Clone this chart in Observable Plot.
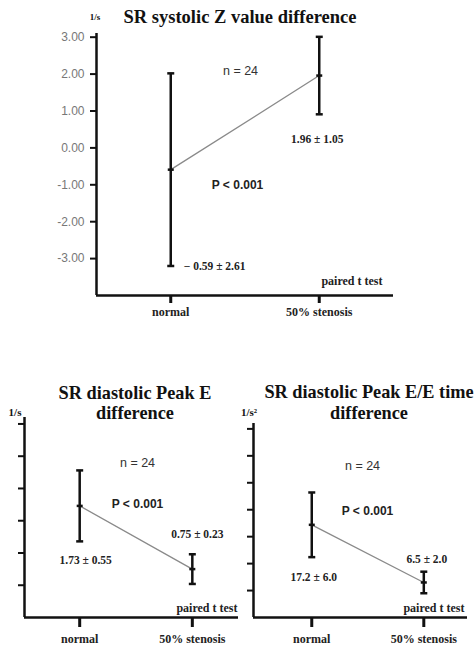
<!DOCTYPE html>
<html><head><meta charset="utf-8">
<script src="https://cdn.jsdelivr.net/npm/d3@7"></script>
<script src="https://cdn.jsdelivr.net/npm/@observablehq/plot@0.6"></script>
<style>
body{margin:0;background:#fff;}
#wrap{position:relative;width:474px;height:649px;overflow:hidden;font-family:"Liberation Serif",serif;}
.t{position:absolute;font-weight:bold;white-space:nowrap;transform:translate(-50%,-50%);color:#111;}
.panel{position:absolute;}
</style></head><body><div id="wrap"></div>
<script>
const categories = ["normal", "50% stenosis"];
const zMean = [-0.59, 1.96];
const zSD = [2.61, 1.05];
const zLabels = ["\u2212 0.59 \u00b1 2.61", "1.96 \u00b1 1.05"];
const zTicks = [-3, -2, -1, 0, 1, 2, 3];
const eMean = [1.73, 0.75];
const eSD = [0.55, 0.23];
const eLabels = ["1.73 \u00b1 0.55", "0.75 \u00b1 0.23"];
const eTicks = [0.5, 1, 1.5, 2, 2.5, 3];
const eeMean = [17.2, 6.5];
const eeSD = [6.0, 2.0];
const eeLabels = ["17.2 \u00b1 6.0", "6.5 \u00b1 2.0"];
const eeTicks = [5, 10, 15, 20, 25, 30, 35];
const nText = "n = 24";
const pText = "P < 0.001";
const testText = "paired t test";
const titles = ["SR systolic Z value difference", "SR diastolic Peak E", "difference", "SR diastolic Peak E/E time", "difference"];
const units = ["1/s", "1/s", "1/s\u00b2"];

const wrap = document.getElementById("wrap");
const hline = {draw(ctx, size) { const r = Math.sqrt(size / Math.PI); ctx.moveTo(-r, 0); ctx.lineTo(r, 0); }};
const sans = "Liberation Sans, Arial, sans-serif";
const serif = "Liberation Serif, Times New Roman, serif";

function panel(cfg) {
  const data = categories.map((c, i) => ({i, c, mean: cfg.mean[i], lo: cfg.mean[i] - cfg.sd[i], hi: cfg.mean[i] + cfg.sd[i], label: cfg.labels[i]}));
  const marks = [
    Plot.ruleY([cfg.yDomain[0]], {strokeWidth: 2.5, stroke: "#111"}),
    Plot.ruleX([cfg.xDomain[0]], {strokeWidth: 2.5, stroke: "#111"}),
    Plot.axisY({ticks: cfg.ticks, tickSize: 6, strokeWidth: 2, stroke: "#111", tickFormat: () => "", label: null}),
    Plot.axisX({ticks: [0, 1], tickFormat: i => categories[i], tickSize: cfg.xTickSize, tickPadding: cfg.xTickPadding, strokeWidth: 3, stroke: "#111", fill: "#222", fontFamily: serif, fontWeight: "bold", fontSize: 12, label: null}),
    Plot.line(data, {x: "i", y: "mean", stroke: "#8a8a8a", strokeWidth: 1.3}),
    Plot.ruleX(data, {x: "i", y1: "lo", y2: "hi", strokeWidth: 2.5, stroke: "#111"}),
    Plot.dot(data, {x: "i", y: "lo", symbol: hline, r: 3.5, stroke: "#111", strokeWidth: 2.5}),
    Plot.dot(data, {x: "i", y: "hi", symbol: hline, r: 3.5, stroke: "#111", strokeWidth: 2.5}),
    Plot.dot(data, {x: "i", y: "mean", symbol: hline, r: 3, stroke: "#111", strokeWidth: 2.5}),
    Plot.text([nText], {frameAnchor: "top", dx: cfg.n[0], dy: cfg.n[1], fontFamily: sans, fontSize: 12.5, fill: "#333"}),
    Plot.text([pText], {frameAnchor: "top", dx: cfg.p[0], dy: cfg.p[1], fontFamily: sans, fontWeight: "bold", fontSize: 12, fill: "#222"}),
    Plot.text([data[0]], {x: "i", y: cfg.l0[0], text: "label", dx: cfg.l0[1], dy: cfg.l0[2], textAnchor: cfg.l0[3], fontFamily: serif, fontWeight: "bold", fontSize: 11.5, fill: "#222"}),
    Plot.text([data[1]], {x: "i", y: cfg.l1[0], text: "label", dx: cfg.l1[1], dy: cfg.l1[2], textAnchor: cfg.l1[3], fontFamily: serif, fontWeight: "bold", fontSize: 11.5, fill: "#222"}),
    Plot.text([testText], {frameAnchor: "bottom-right", textAnchor: "end", dx: cfg.t[0], dy: cfg.t[1], fontFamily: serif, fontWeight: "bold", fontSize: 12, fill: "#222"})
  ];
  const chart = Plot.plot({
    width: cfg.width, height: cfg.height,
    marginLeft: cfg.m[0], marginRight: cfg.m[1], marginTop: cfg.m[2], marginBottom: cfg.m[3],
    x: {type: "linear", domain: cfg.xDomain},
    y: {domain: cfg.yDomain},
    style: {background: "transparent", fontFamily: serif, overflow: "visible"},
    marks
  });
  chart.classList.add("panel");
  chart.style.left = cfg.left + "px";
  chart.style.top = cfg.top + "px";
  wrap.appendChild(chart);
  if (cfg.tickLabels) {
    const lab = Plot.plot({
      width: cfg.width, height: cfg.height,
      marginLeft: cfg.m[0], marginRight: cfg.m[1], marginTop: cfg.m[2], marginBottom: cfg.m[3],
      x: {type: "linear", domain: cfg.xDomain, axis: null},
      y: {domain: cfg.yDomain, axis: null},
      style: {background: "transparent", overflow: "visible"},
      marks: [Plot.text(cfg.ticks, {x: cfg.xDomain[0], y: d => d, text: d => d.toFixed(2), textAnchor: "end", dx: -12, fontFamily: sans, fontSize: 12, fill: "#777"})]
    });
    lab.classList.add("panel");
    lab.style.left = cfg.left + "px";
    lab.style.top = cfg.top + "px";
    wrap.appendChild(lab);
  }
}

panel({mean: zMean, sd: zSD, labels: zLabels, ticks: zTicks, tickLabels: true,
  xDomain: [-0.5, 1.5], yDomain: [-4, 3.1], width: 474, height: 330, left: 0, top: 0, m: [96, 81, 33, 35],
  xTickSize: 8, xTickPadding: 4,
  n: [-4.5, 33], p: [-7.5, 147], l0: ["lo", 13, 0, "start"], l1: ["lo", -2, 25, "middle"], t: [-11, -11]});

panel({mean: eMean, sd: eSD, labels: eLabels, ticks: eTicks,
  xDomain: [-0.49, 1.41], yDomain: [0, 3.1], width: 240, height: 319, left: 0, top: 330, m: [24, 2, 87, 32],
  xTickSize: 10, xTickPadding: 7,
  n: [6, 41], p: [6, 82], l0: ["lo", 6, 19, "middle"], l1: ["hi", 5, -20, "middle"], t: [-1, -6]});

panel({mean: eeMean, sd: eeSD, labels: eeLabels, ticks: eeTicks,
  xDomain: [-0.52, 1.39], yDomain: [0, 36], width: 234, height: 319, left: 240, top: 330, m: [13, 7, 93, 32],
  xTickSize: 10, xTickPadding: 7,
  n: [2, 38], p: [7, 83], l0: ["lo", 2, 20, "middle"], l1: ["hi", 3, -12, "middle"], t: [-3, -6]});

function label(text, x, y, size) {
  const d = document.createElement("div");
  d.className = "t";
  d.textContent = text;
  d.style.left = x + "px";
  d.style.top = y + "px";
  d.style.fontSize = size + "px";
  wrap.appendChild(d);
}
label(titles[0], 240, 17, 18.5);
label(titles[1], 135, 393, 18.3);
label(titles[2], 135, 413, 18.3);
label(titles[3], 369, 392, 18.3);
label(titles[4], 369, 413, 18.3);
label(units[0], 95, 17, 9);
label(units[1], 15, 412, 11);
label(units[2], 249, 412, 11);
</script></body></html>
